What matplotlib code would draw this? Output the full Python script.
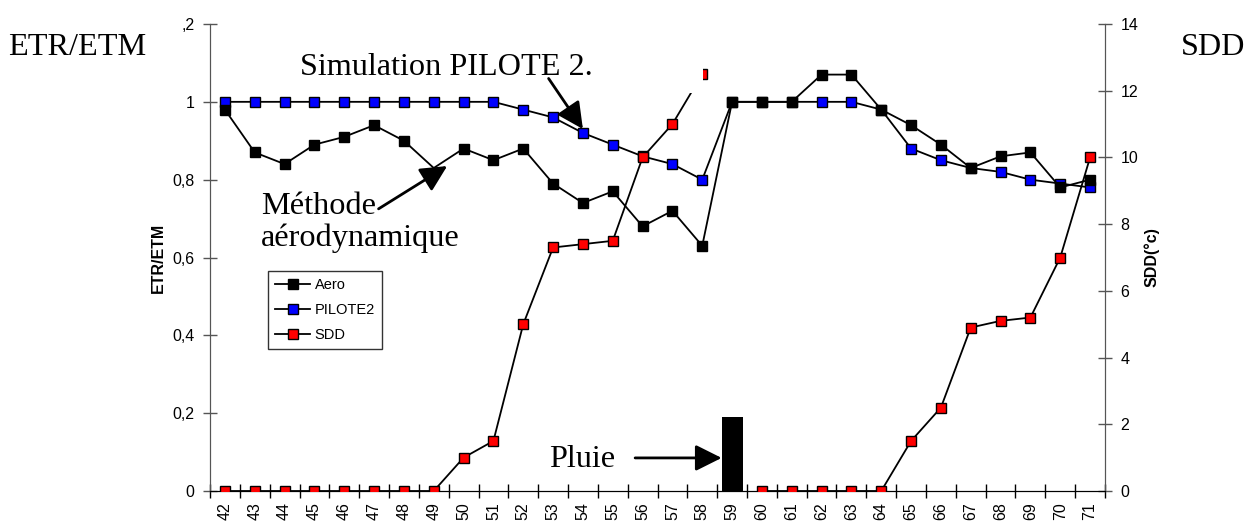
import numpy as np
import matplotlib.pyplot as plt
from matplotlib.lines import Line2D
from matplotlib.patches import Rectangle

# day numbers on the x axis
days = [42, 43, 44, 45, 46, 47, 48, 49, 50, 51, 52, 53, 54, 55, 56,
        57, 58, 59, 60, 61, 62, 63, 64, 65, 66, 67, 68, 69, 70, 71]

# ETR/ETM, aerodynamic method
aero = [0.98, 0.87, 0.84, 0.89, 0.91, 0.94, 0.90, 0.83, 0.88, 0.85,
        0.88, 0.79, 0.74, 0.77, 0.68, 0.72, 0.63, 1.00, 1.00, 1.00,
        1.07, 1.07, 0.98, 0.94, 0.89, 0.83, 0.86, 0.87, 0.78, 0.80]

# ETR/ETM, PILOTE 2 simulation
pilote2 = [1.00, 1.00, 1.00, 1.00, 1.00, 1.00, 1.00, 1.00, 1.00, 1.00,
           0.98, 0.96, 0.92, 0.89, 0.86, 0.84, 0.80, 1.00, 1.00, 1.00,
           1.00, 1.00, 0.98, 0.88, 0.85, 0.83, 0.82, 0.80, 0.79, 0.78]

# SDD (°c), right axis
sdd = [0, 0, 0, 0, 0, 0, 0, 0, 1.0, 1.5,
       5.0, 7.3, 7.4, 7.5, 10.0, 11.0, 12.5, np.nan, 0, 0,
       0, 0, 0, 1.5, 2.5, 4.9, 5.1, 5.2, 7.0, 10.0]

# rain event
rain_day = [59]
rain_height = [0.19]

y_ticks = [0, 0.2, 0.4, 0.6, 0.8, 1.0, 1.2]
y_ticklabels = ['0', '0,2', '0,4', '0,6', '0,8', '1', ',2']
sdd_ticks = [0, 2, 4, 6, 8, 10, 12, 14]

plt.rcParams['font.family'] = ['Liberation Sans', 'DejaVu Sans']
serif = ['Liberation Serif', 'DejaVu Serif']
big = 23.2

W, H = 1246, 522
fig = plt.figure(figsize=(W / 100, H / 100), dpi=100)
ax = fig.add_axes([210 / W, 1 - 491 / H, (1105 - 210) / W, (491 - 24) / H])
ax2 = ax.twinx()

x = np.arange(len(days))
rx = [days.index(d) for d in rain_day]

ax.bar(rx, rain_height, width=0.7, color='black', zorder=3)

# the aero marker at day 49 is hidden under the arrow head in the original
aero_marks = [i for i in range(len(days)) if days[i] != 49]
ax.plot(x, pilote2, color='black', lw=1.3, marker='s', ms=7,
        mfc='#0000ff', mec='black', mew=1, zorder=4)
ax.plot(x, aero, color='black', lw=1.3, marker='s', ms=7,
        mfc='black', mec='black', mew=1, markevery=aero_marks, zorder=5)
ax2.plot(x, sdd, color='black', lw=1.3, marker='s', ms=7,
         mfc='#ff0000', mec='black', mew=1, zorder=5)

ax.set_xlim(-0.5, len(days) - 0.5)
ax.set_ylim(0, 1.2)
ax2.set_ylim(0, 14)

ax.set_yticks(y_ticks)
ax.set_yticklabels(y_ticklabels)
ax2.set_yticks(sdd_ticks)

# category ticks between days, labels at centres
ax.set_xticks(np.arange(-0.5, len(days), 1.0))
ax.set_xticklabels([])
ax.set_xticks(x, minor=True)
ax.set_xticklabels([str(d) for d in days], minor=True, rotation=90)
ax.tick_params(axis='x', which='major', direction='inout', length=10, width=1, color='black')
ax.tick_params(axis='x', which='minor', length=0, labelsize=11.5, pad=8)
ax.tick_params(axis='y', direction='inout', length=10, width=1, color='#555555', labelsize=11.5, pad=6)
ax2.tick_params(axis='y', direction='inout', length=10, width=1, color='#555555', labelsize=11.5, pad=6)

for a in (ax, ax2):
    a.spines['top'].set_visible(False)
    a.spines['left'].set_color('#555555')
    a.spines['right'].set_color('#555555')
    a.spines['bottom'].set_color('black')
    a.patch.set_visible(False)

ax.set_ylabel('ETR/ETM', fontsize=11.5, fontweight='bold')
ax.yaxis.set_label_coords(-0.049, 0.5)
ax2.set_ylabel('SDD(°c)', fontsize=11.5, fontweight='bold')
ax2.yaxis.set_label_coords(1.043, 0.5)

# annotations drawn on the top axes, in left-axis data coordinates
td = ax.transData
# white box behind the "Simulation" label, it hides the top of the SDD curve
ax2.add_patch(Rectangle((2.35, 1.023), 13.68, 0.2, transform=td,
                        facecolor='white', edgecolor='none', zorder=6, clip_on=False))

arrow = dict(arrowstyle='-|>', mutation_scale=40, lw=2, color='black',
             shrinkA=0, shrinkB=0)
ax2.annotate('', xy=(12.0, 0.93), xycoords=td, xytext=(10.85, 1.06), textcoords=td,
             arrowprops=arrow, zorder=7)
ax2.text(2.5, 1.068, 'Simulation PILOTE 2.', transform=td, fontsize=big, family=serif,
         ha='left', va='baseline', zorder=8)
ax2.annotate('', xy=(7.45, 0.835), xycoords=td, xytext=(5.15, 0.725), textcoords=td,
             arrowprops=arrow, zorder=7)
ax2.text(1.2, 0.63, 'Méthode\naérodynamique', transform=td, fontsize=big, family=serif,
         ha='left', va='baseline', linespacing=1.12, zorder=8)
ax2.annotate('', xy=(16.65, 0.085), xycoords=td, xytext=(13.75, 0.085), textcoords=td,
             arrowprops=arrow, zorder=7)
ax2.text(10.85, 0.062, 'Pluie', transform=td, fontsize=big, family=serif,
         ha='left', va='baseline', zorder=8)

fig.text(8 / W, 1 - 55 / H, 'ETR/ETM', fontsize=big, family=serif, ha='left', va='baseline')
fig.text(1245 / W, 1 - 55 / H, 'SDD', fontsize=big, family=serif, ha='right', va='baseline')

handles = [
    Line2D([], [], color='black', lw=1.3, marker='s', ms=7, mfc='black', mec='black'),
    Line2D([], [], color='black', lw=1.3, marker='s', ms=7, mfc='#0000ff', mec='black'),
    Line2D([], [], color='black', lw=1.3, marker='s', ms=7, mfc='#ff0000', mec='black'),
]
leg = ax2.legend(handles, ['Aero', 'PILOTE2', 'SDD'], loc='upper left',
                 bbox_to_anchor=(268 / W, 1 - 271 / H), bbox_transform=fig.transFigure,
                 fontsize=10.5, frameon=True, fancybox=False, edgecolor='black',
                 handlelength=2.4, handletextpad=0.3, labelspacing=0.75,
                 borderpad=0.5, borderaxespad=0)
leg.get_frame().set_linewidth(1)
leg.set_zorder(9)

fig.savefig('out.png', dpi=100)
